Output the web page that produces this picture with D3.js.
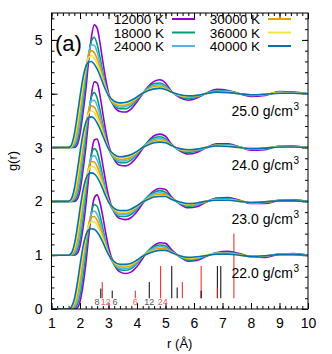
<!DOCTYPE html>
<html>
<head>
<meta charset="utf-8">
<script src="https://cdn.jsdelivr.net/npm/d3@7"></script>
<style>
body { margin: 0; background: #fff; }
text { font-family: "Liberation Sans", Arial, sans-serif; }
</style>
</head>
<body>
<svg id="chart" width="332" height="354"></svg>
<script>
// temperatures and densities
const temps = ["12000 K", "18000 K", "24000 K", "30000 K", "36000 K", "40000 K"];
const densities = ["22.0", "23.0", "24.0", "25.0"];
const offsets = [0, 1, 2, 3];

// r grid shared by every curve
const rGrid = [1.0, 1.5, 1.6, 1.7, 1.8, 1.9, 2.0, 2.1, 2.2, 2.3, 2.4, 2.5, 2.6, 2.7, 2.8, 2.9, 3.0, 3.2, 3.4, 3.6, 3.8, 4.0, 4.2, 4.4, 4.6, 4.8, 5.0, 5.2, 5.5, 5.8, 6.1, 6.4, 6.8, 7.2, 7.6, 8.0, 8.5, 9.0, 9.5, 10.0];

// g(r), 22.0 g/cm3
const g22 = [
  [0, 0, 0, 0, 0, 0.02, 0.14, 0.42, 0.82, 1.32, 1.78, 2.06, 2.12, 1.98, 1.72, 1.42, 1.15, 0.83, 0.69, 0.66, 0.69, 0.79, 0.94, 1.08, 1.18, 1.23, 1.22, 1.11, 0.97, 0.89, 0.9, 0.97, 1.05, 1.07, 1.03, 0.97, 0.96, 1.02, 1.03, 1.0],
  [0, 0, 0, 0, 0.01, 0.08, 0.26, 0.59, 1.02, 1.46, 1.79, 1.94, 1.91, 1.74, 1.5, 1.25, 1.04, 0.82, 0.73, 0.72, 0.75, 0.85, 0.97, 1.08, 1.16, 1.19, 1.17, 1.08, 0.97, 0.91, 0.92, 0.98, 1.04, 1.05, 1.02, 0.97, 0.98, 1.02, 1.02, 1.0],
  [0, 0, 0, 0.01, 0.04, 0.14, 0.38, 0.76, 1.18, 1.54, 1.77, 1.82, 1.76, 1.62, 1.42, 1.22, 1.04, 0.84, 0.76, 0.75, 0.78, 0.87, 0.98, 1.07, 1.13, 1.16, 1.14, 1.07, 0.98, 0.93, 0.94, 0.99, 1.04, 1.04, 1.01, 0.97, 0.98, 1.02, 1.02, 1.0],
  [0, 0, 0, 0.02, 0.07, 0.23, 0.53, 0.9, 1.27, 1.56, 1.71, 1.72, 1.65, 1.52, 1.35, 1.17, 1.03, 0.85, 0.79, 0.78, 0.81, 0.89, 0.98, 1.05, 1.1, 1.13, 1.12, 1.06, 0.98, 0.94, 0.95, 0.99, 1.03, 1.03, 1.01, 0.98, 0.99, 1.01, 1.01, 1.0],
  [0, 0, 0, 0.03, 0.12, 0.34, 0.67, 1.02, 1.33, 1.54, 1.62, 1.62, 1.56, 1.45, 1.31, 1.16, 1.03, 0.87, 0.81, 0.81, 0.83, 0.9, 0.98, 1.04, 1.08, 1.1, 1.1, 1.05, 0.99, 0.95, 0.96, 1.0, 1.03, 1.03, 1.0, 0.98, 0.99, 1.01, 1.01, 1.0],
  [0, 0, 0, 0.04, 0.18, 0.46, 0.81, 1.14, 1.36, 1.47, 1.49, 1.48, 1.43, 1.35, 1.24, 1.12, 1.01, 0.88, 0.83, 0.83, 0.85, 0.91, 0.98, 1.03, 1.07, 1.09, 1.09, 1.05, 0.99, 0.96, 0.97, 0.99, 1.02, 1.02, 1.0, 0.98, 0.99, 1.01, 1.01, 1.0]
];

// g(r), 23.0 g/cm3
const g23 = [
  [0, 0, 0, 0, 0, 0.03, 0.17, 0.48, 0.9, 1.42, 1.88, 2.14, 2.16, 1.98, 1.68, 1.37, 1.1, 0.8, 0.68, 0.66, 0.7, 0.81, 0.96, 1.1, 1.2, 1.24, 1.22, 1.09, 0.95, 0.88, 0.9, 0.98, 1.06, 1.07, 1.02, 0.96, 0.96, 1.02, 1.03, 1.0],
  [0, 0, 0, 0, 0.01, 0.09, 0.29, 0.65, 1.1, 1.55, 1.87, 1.98, 1.92, 1.72, 1.46, 1.21, 1.01, 0.8, 0.72, 0.72, 0.76, 0.86, 0.99, 1.1, 1.17, 1.2, 1.17, 1.07, 0.96, 0.91, 0.93, 0.99, 1.05, 1.05, 1.01, 0.97, 0.98, 1.02, 1.02, 1.0],
  [0, 0, 0, 0.01, 0.04, 0.16, 0.42, 0.82, 1.25, 1.61, 1.82, 1.85, 1.77, 1.61, 1.4, 1.19, 1.01, 0.82, 0.75, 0.75, 0.79, 0.88, 0.99, 1.08, 1.14, 1.16, 1.14, 1.06, 0.97, 0.93, 0.94, 0.99, 1.04, 1.04, 1.01, 0.97, 0.98, 1.02, 1.02, 1.0],
  [0, 0, 0, 0.02, 0.08, 0.26, 0.58, 0.96, 1.33, 1.61, 1.74, 1.73, 1.65, 1.51, 1.33, 1.15, 1.01, 0.84, 0.78, 0.78, 0.82, 0.9, 0.99, 1.06, 1.11, 1.13, 1.12, 1.05, 0.98, 0.94, 0.96, 0.99, 1.03, 1.03, 1.01, 0.98, 0.99, 1.01, 1.01, 1.0],
  [0, 0, 0, 0.03, 0.13, 0.37, 0.71, 1.07, 1.38, 1.58, 1.65, 1.63, 1.56, 1.44, 1.29, 1.14, 1.01, 0.86, 0.81, 0.81, 0.84, 0.91, 0.99, 1.05, 1.09, 1.11, 1.1, 1.05, 0.98, 0.95, 0.97, 1.0, 1.03, 1.03, 1.0, 0.98, 0.99, 1.01, 1.01, 1.0],
  [0, 0, 0, 0.04, 0.2, 0.5, 0.86, 1.19, 1.41, 1.51, 1.53, 1.51, 1.45, 1.35, 1.23, 1.1, 0.99, 0.87, 0.83, 0.83, 0.86, 0.92, 0.99, 1.04, 1.08, 1.09, 1.09, 1.04, 0.99, 0.96, 0.97, 1.0, 1.02, 1.02, 1.0, 0.98, 0.99, 1.01, 1.01, 1.0]
];

// g(r), 24.0 g/cm3
const g24 = [
  [0, 0, 0, 0, 0, 0.04, 0.2, 0.55, 0.98, 1.52, 1.98, 2.22, 2.2, 1.97, 1.64, 1.32, 1.06, 0.78, 0.67, 0.66, 0.71, 0.83, 0.98, 1.12, 1.22, 1.25, 1.21, 1.07, 0.94, 0.88, 0.91, 0.99, 1.07, 1.07, 1.01, 0.95, 0.96, 1.03, 1.03, 1.0],
  [0, 0, 0, 0, 0.02, 0.1, 0.33, 0.72, 1.18, 1.63, 1.94, 2.02, 1.92, 1.7, 1.43, 1.18, 0.98, 0.79, 0.72, 0.72, 0.77, 0.88, 1.0, 1.11, 1.18, 1.2, 1.16, 1.05, 0.95, 0.91, 0.93, 0.99, 1.05, 1.05, 1.01, 0.97, 0.98, 1.02, 1.02, 1.0],
  [0, 0, 0, 0.01, 0.05, 0.18, 0.47, 0.88, 1.32, 1.68, 1.87, 1.88, 1.78, 1.6, 1.37, 1.16, 0.99, 0.81, 0.75, 0.76, 0.8, 0.9, 1.0, 1.09, 1.15, 1.17, 1.14, 1.05, 0.96, 0.93, 0.95, 0.99, 1.04, 1.04, 1.01, 0.97, 0.98, 1.02, 1.02, 1.0],
  [0, 0, 0, 0.02, 0.09, 0.29, 0.63, 1.02, 1.39, 1.67, 1.77, 1.75, 1.65, 1.5, 1.31, 1.13, 0.99, 0.83, 0.78, 0.79, 0.83, 0.91, 1.0, 1.07, 1.12, 1.14, 1.12, 1.05, 0.97, 0.94, 0.96, 1.0, 1.04, 1.03, 1.0, 0.98, 0.99, 1.02, 1.01, 1.0],
  [0, 0, 0, 0.03, 0.15, 0.41, 0.76, 1.12, 1.43, 1.63, 1.68, 1.65, 1.56, 1.43, 1.27, 1.12, 0.99, 0.85, 0.81, 0.82, 0.85, 0.92, 1.0, 1.06, 1.1, 1.12, 1.1, 1.04, 0.97, 0.95, 0.97, 1.0, 1.03, 1.03, 1.0, 0.98, 0.99, 1.02, 1.01, 1.0],
  [0, 0, 0, 0.05, 0.23, 0.55, 0.91, 1.24, 1.46, 1.56, 1.57, 1.54, 1.46, 1.35, 1.22, 1.09, 0.98, 0.87, 0.83, 0.84, 0.87, 0.93, 1.0, 1.05, 1.09, 1.1, 1.09, 1.04, 0.98, 0.96, 0.97, 1.0, 1.03, 1.02, 1.0, 0.98, 0.99, 1.01, 1.01, 1.0]
];

// g(r), 25.0 g/cm3
const g25 = [
  [0, 0, 0, 0, 0, 0.05, 0.25, 0.62, 1.05, 1.6, 2.05, 2.28, 2.22, 1.95, 1.6, 1.28, 1.02, 0.76, 0.67, 0.66, 0.72, 0.85, 1.0, 1.14, 1.23, 1.26, 1.2, 1.05, 0.93, 0.88, 0.92, 1.0, 1.08, 1.06, 1.0, 0.95, 0.97, 1.04, 1.03, 1.0],
  [0, 0, 0, 0, 0.02, 0.12, 0.38, 0.78, 1.25, 1.7, 1.98, 2.05, 1.92, 1.68, 1.4, 1.15, 0.96, 0.78, 0.72, 0.72, 0.78, 0.89, 1.01, 1.12, 1.19, 1.2, 1.15, 1.04, 0.95, 0.91, 0.94, 1.0, 1.06, 1.05, 1.0, 0.97, 0.98, 1.03, 1.02, 1.0],
  [0, 0, 0, 0.01, 0.05, 0.2, 0.52, 0.95, 1.38, 1.74, 1.91, 1.9, 1.78, 1.58, 1.34, 1.13, 0.97, 0.8, 0.75, 0.76, 0.81, 0.91, 1.01, 1.1, 1.16, 1.17, 1.13, 1.04, 0.96, 0.93, 0.95, 1.0, 1.05, 1.04, 1.0, 0.97, 0.98, 1.02, 1.02, 1.0],
  [0, 0, 0, 0.02, 0.1, 0.32, 0.68, 1.08, 1.45, 1.72, 1.8, 1.76, 1.65, 1.49, 1.29, 1.11, 0.97, 0.82, 0.78, 0.79, 0.83, 0.92, 1.01, 1.08, 1.13, 1.14, 1.11, 1.04, 0.97, 0.94, 0.96, 1.0, 1.04, 1.03, 1.0, 0.98, 0.99, 1.02, 1.01, 1.0],
  [0, 0, 0, 0.03, 0.16, 0.44, 0.8, 1.17, 1.48, 1.67, 1.71, 1.66, 1.56, 1.42, 1.25, 1.1, 0.98, 0.84, 0.81, 0.82, 0.86, 0.93, 1.01, 1.07, 1.11, 1.12, 1.09, 1.03, 0.97, 0.95, 0.97, 1.0, 1.03, 1.03, 1.0, 0.98, 0.99, 1.02, 1.01, 1.0],
  [0, 0, 0, 0.05, 0.25, 0.58, 0.95, 1.28, 1.5, 1.59, 1.6, 1.55, 1.46, 1.34, 1.2, 1.07, 0.97, 0.86, 0.83, 0.84, 0.88, 0.94, 1.01, 1.06, 1.09, 1.1, 1.08, 1.03, 0.98, 0.96, 0.97, 1.0, 1.03, 1.02, 1.0, 0.98, 0.99, 1.01, 1.01, 1.0]
];

// lattice shells: bcc (black) and fcc (red)
const bccR = [2.73, 3.13, 4.43, 5.22, 5.41, 6.25, 6.82, 6.94];
const bccTop = [0.38, 0.34, 0.50, 0.80, 0.40, 0.34, 0.80, 0.80];
const fccR = [2.78, 3.94, 4.83, 5.59, 6.25, 6.82, 7.40];
const fccTop = [0.50, 0.34, 0.80, 0.50, 0.80, 0.40, 1.40];
const stickBase = 0.2;
const shellLabels = ["8", "12", "6", "6", "12", "24"];
const shellLabelR = [2.6, 2.9, 3.23, 3.94, 4.43, 4.9];
const shellLabelKind = ["bcc", "fcc", "bcc", "fcc", "bcc", "fcc"];

const xTicks = [1, 2, 3, 4, 5, 6, 7, 8, 9, 10];
const yTicks = [0, 1, 2, 3, 4, 5];

const colors = ["#9400d3", "#009e73", "#56b4e9", "#e69f00", "#f0e442", "#0072b2"];

const allG = [g22, g23, g24, g25];

const svg = d3.select("#chart");
const mLeft = 51.5, mRight = 308, mTop = 13, mBottom = 309;

const x = d3.scaleLinear().domain([1, 10]).range([mLeft, mRight]);
const y = d3.scaleLinear().domain([0, 5.5]).range([mBottom, mTop]);

svg.append("clipPath").attr("id", "clip")
    .append("rect").attr("x", mLeft).attr("y", mTop)
    .attr("width", mRight - mLeft).attr("height", mBottom - mTop);

const minorX = d3.range(1, 10.001, 0.2);
const minorY = d3.range(0, 5.501, 0.2);

function styleAxis(g) {
    g.select(".domain").remove();
    g.selectAll(".tick line").attr("stroke", "#000");
}

// minor ticks on all sides
svg.append("g").attr("transform", `translate(0,${mBottom})`)
    .call(d3.axisBottom(x).tickValues(minorX).tickSize(-3).tickFormat("")).call(styleAxis);
svg.append("g").attr("transform", `translate(0,${mTop})`)
    .call(d3.axisTop(x).tickValues(minorX).tickSize(-3).tickFormat("")).call(styleAxis);
svg.append("g").attr("transform", `translate(${mLeft},0)`)
    .call(d3.axisLeft(y).tickValues(minorY).tickSize(-3).tickFormat("")).call(styleAxis);
svg.append("g").attr("transform", `translate(${mRight},0)`)
    .call(d3.axisRight(y).tickValues(minorY).tickSize(-3).tickFormat("")).call(styleAxis);

// major ticks
svg.append("g").attr("transform", `translate(0,${mBottom})`)
    .call(d3.axisBottom(x).tickValues(xTicks).tickSize(-6).tickPadding(9).tickFormat(d3.format("d")))
    .call(styleAxis);
svg.append("g").attr("transform", `translate(0,${mTop})`)
    .call(d3.axisTop(x).tickValues(xTicks).tickSize(-6).tickFormat("")).call(styleAxis);
svg.append("g").attr("transform", `translate(${mLeft},0)`)
    .call(d3.axisLeft(y).tickValues(yTicks).tickSize(-6).tickPadding(9).tickFormat(d3.format("d")))
    .call(styleAxis);
svg.append("g").attr("transform", `translate(${mRight},0)`)
    .call(d3.axisRight(y).tickValues(yTicks).tickSize(-6).tickFormat("")).call(styleAxis);

svg.selectAll(".tick text").attr("font-size", 14).attr("fill", "#000")
    .attr("font-family", "Liberation Sans, Arial, sans-serif");

// shell sticks
const sticks = [];
bccR.forEach((r, i) => sticks.push({ r: r, top: bccTop[i], c: "#000" }));
fccR.forEach((r, i) => sticks.push({ r: r, top: fccTop[i], c: "#e8201c" }));
sticks.sort((a, b) => b.top - a.top);

svg.append("g").selectAll("line")
    .data(sticks)
    .enter()
    .append("line")
    .attr("x1", d => x(d.r)).attr("x2", d => x(d.r))
    .attr("y1", y(stickBase)).attr("y2", d => y(d.top))
    .attr("stroke", d => d.c)
    .attr("stroke-width", 1);

svg.append("g").selectAll("text")
    .data(shellLabels)
    .enter()
    .append("text")
    .attr("x", (d, i) => x(shellLabelR[i]))
    .attr("y", y(stickBase) + 7)
    .attr("text-anchor", "middle")
    .attr("font-size", 9)
    .attr("font-family", "DejaVu Sans Mono, monospace")
    .attr("fill", (d, i) => shellLabelKind[i] === "bcc" ? "#555" : "#f06060")
    .text(d => d);

// g(r) curves
const line = d3.line()
    .x(d => x(d[0]))
    .y(d => y(d[1]))
    .curve(d3.curveMonotoneX);

const curves = svg.append("g").attr("clip-path", "url(#clip)");
allG.forEach((set, k) => {
    set.forEach((vals, t) => {
        const pts = rGrid.map((r, i) => [r, vals[i] + offsets[k]]);
        curves.append("path")
            .attr("d", line(pts))
            .attr("fill", "none")
            .attr("stroke", colors[t])
            .attr("stroke-width", 1.6);
    });
});

// density labels
densities.forEach((d, k) => {
    svg.append("text")
        .attr("x", 293)
        .attr("y", y(offsets[k] + 0.58))
        .attr("text-anchor", "end")
        .attr("font-size", 14)
        .text(d + " g/cm");
    svg.append("text")
        .attr("x", 293.5)
        .attr("y", y(offsets[k] + 0.58) - 6)
        .attr("font-size", 10)
        .text("3");
});

// frame
svg.append("rect")
    .attr("x", mLeft).attr("y", mTop)
    .attr("width", mRight - mLeft).attr("height", mBottom - mTop)
    .attr("fill", "none").attr("stroke", "#000").attr("stroke-width", 1);

// legend
const legend = svg.append("g");
temps.forEach((t, i) => {
    const col = Math.floor(i / 3), row = i % 3;
    const tx = col === 0 ? 164 : 260;
    const ly = 24 + row * 13.5;
    legend.append("text")
        .attr("x", tx).attr("y", ly)
        .attr("text-anchor", "end")
        .attr("font-size", 13.5)
        .text(t);
    legend.append("line")
        .attr("x1", tx + 8).attr("x2", tx + 31)
        .attr("y1", ly - 5).attr("y2", ly - 5)
        .attr("stroke", colors[i])
        .attr("stroke-width", 2);
});

// panel tag
svg.append("text").attr("x", 55).attr("y", 51).attr("font-size", 22).text("(a)");

// axis titles
svg.append("text")
    .attr("x", (mLeft + mRight) / 2).attr("y", 348)
    .attr("text-anchor", "middle").attr("font-size", 13)
    .text("r (Å)");
svg.append("text")
    .attr("transform", `translate(17,${(mTop + mBottom) / 2}) rotate(-90)`)
    .attr("text-anchor", "middle").attr("font-size", 13)
    .text("g(r)");
</script>
</body>
</html>
